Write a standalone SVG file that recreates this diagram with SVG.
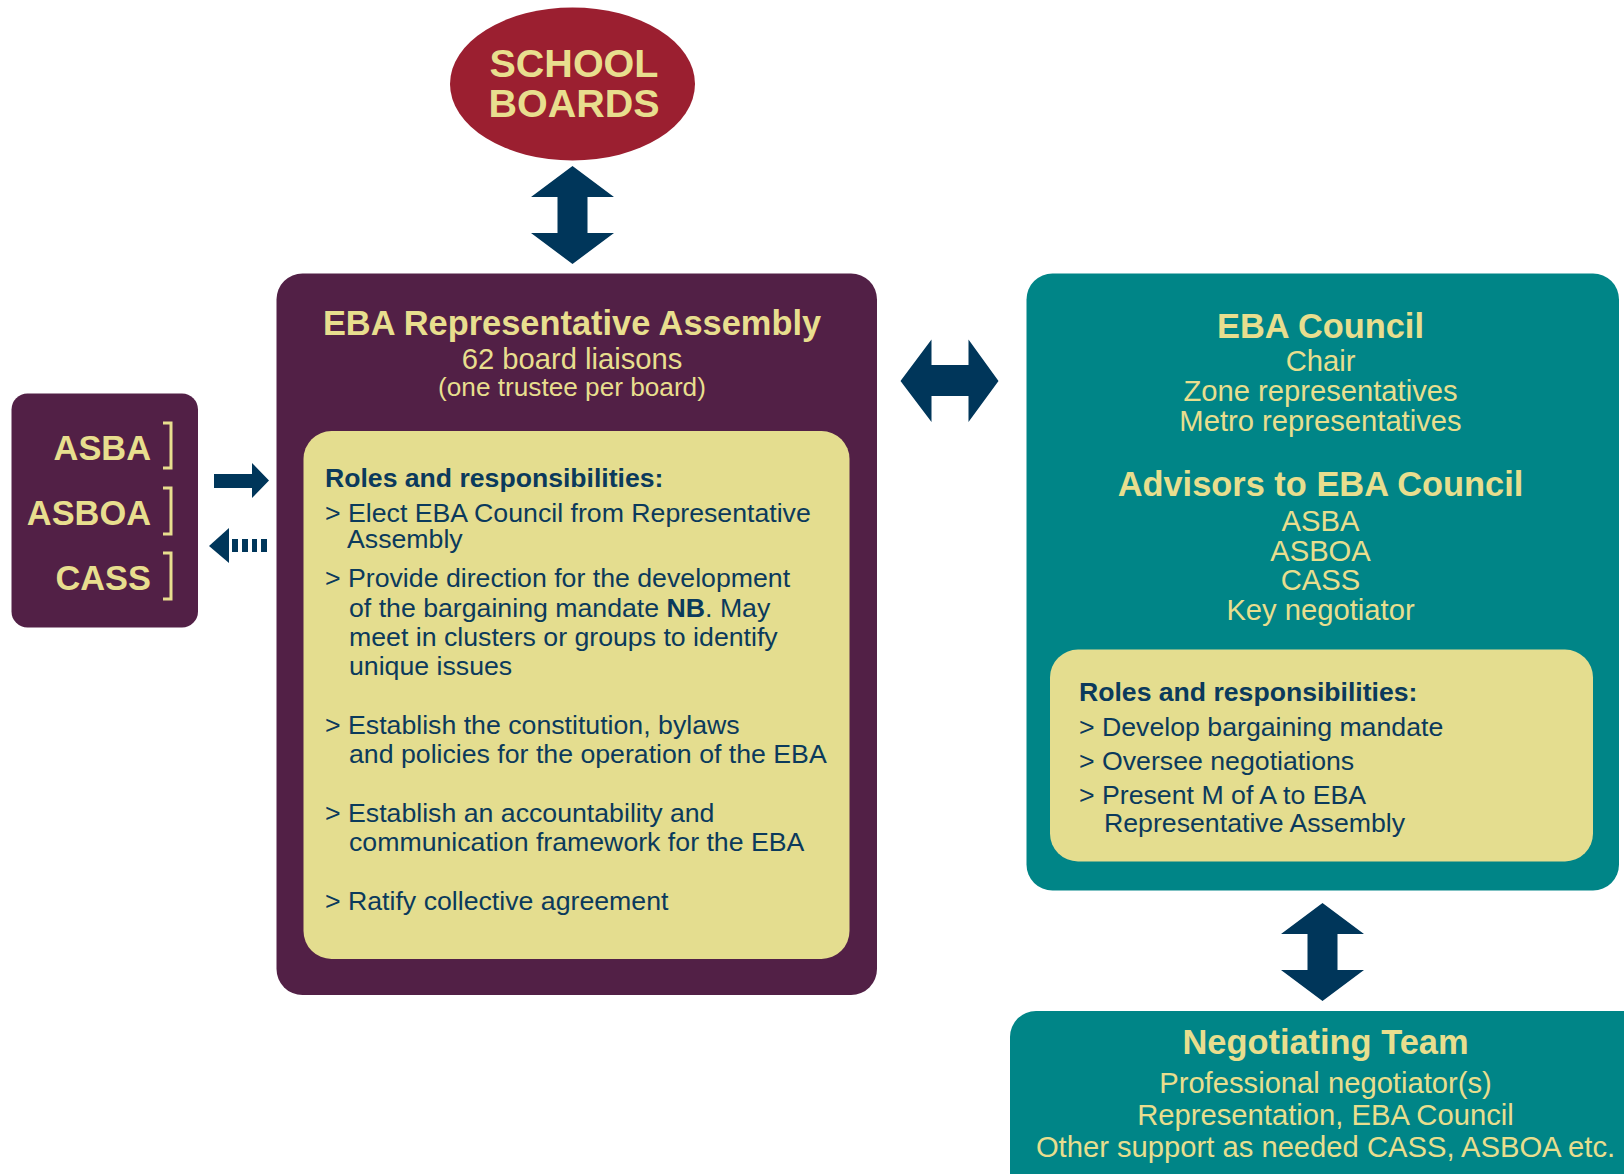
<svg xmlns="http://www.w3.org/2000/svg" width="1624" height="1174" viewBox="0 0 1624 1174">
<style>
text{font-family:"Liberation Sans",Arial,sans-serif}
.hd{font-weight:bold;font-size:34.4px;fill:#E8DE8E;text-anchor:middle}
.sub{font-size:29.2px;fill:#E8DE8E;text-anchor:middle}
.rh{font-weight:bold;font-size:26.6px;fill:#0B3A5C}
.li{font-size:26.7px;fill:#0B3A5C}
.ar{fill:#00365A}
.br{fill:none;stroke:#E8DE8E;stroke-width:3}
</style>
<rect width="1624" height="1174" fill="#ffffff"/>
<g id="connectors">
<path class="ar" d="M572.5,166 L614,197 L587.5,197 L587.5,233 L614,233 L572.5,264 L531,233 L557.5,233 L557.5,197 L531,197 Z"/>
<path class="ar" d="M1322.5,903 L1364,934 L1337.5,934 L1337.5,970 L1364,970 L1322.5,1001 L1281,970 L1307.5,970 L1307.5,934 L1281,934 Z"/>
<path class="ar" d="M900.5,381 L931.5,339.5 L931.5,365 L968.5,365 L968.5,339.5 L998.5,381 L968.5,422 L968.5,396 L931.5,396 L931.5,422 Z"/>
<path class="ar" d="M214,474 L252,474 L252,463 L269,480.5 L252,498 L252,488 L214,488 Z"/>
<path class="ar" d="M209,546 L229,528 L229,563 Z"/>
<rect class="ar" x="232" y="539" width="6" height="13"/>
<rect class="ar" x="242" y="539" width="6" height="13"/>
<rect class="ar" x="252" y="539" width="5" height="13"/>
<rect class="ar" x="261" y="539" width="6" height="13"/>
</g>
<g id="school-boards">
<ellipse cx="572.5" cy="84" rx="122.5" ry="76.5" fill="#9B1F30"/>
<text x="574" y="77" style="font-weight:bold;font-size:39.5px;fill:#E8DE8E;text-anchor:middle">SCHOOL</text>
<text x="574" y="117" style="font-weight:bold;font-size:39.5px;fill:#E8DE8E;text-anchor:middle">BOARDS</text>
</g>
<g id="associations">
<rect x="11.5" y="393.5" width="186.5" height="234" rx="16" fill="#522046"/>
<text x="151" y="459.5" style="font-weight:bold;font-size:34.4px;fill:#E8DE8E;text-anchor:end">ASBA</text>
<text x="151" y="525" style="font-weight:bold;font-size:34.4px;fill:#E8DE8E;text-anchor:end">ASBOA</text>
<text x="151" y="590" style="font-weight:bold;font-size:34.4px;fill:#E8DE8E;text-anchor:end">CASS</text>
<path class="br" d="M163,423 H171 V468 H163"/>
<path class="br" d="M163,488 H171 V534 H163"/>
<path class="br" d="M163,553 H171 V599 H163"/>
</g>
<g id="representative-assembly">
<rect x="276.5" y="273.5" width="600.5" height="721.5" rx="26" fill="#522046"/>
<text class="hd" x="572" y="334.5">EBA Representative Assembly</text>
<text class="sub" x="572" y="369">62 board liaisons</text>
<text x="572" y="396" style="font-size:26.2px;fill:#E8DE8E;text-anchor:middle">(one trustee per board)</text>
<rect x="303.5" y="431" width="546" height="528" rx="28" fill="#E4DD8F"/>
<text class="rh" x="325" y="487">Roles and responsibilities:</text>
<text class="li" x="325" y="522">&gt; Elect EBA Council from Representative</text>
<text class="li" x="347" y="548">Assembly</text>
<text class="li" x="325" y="587">&gt; Provide direction for the development</text>
<text class="li" x="349" y="617">of the bargaining mandate <tspan font-weight="bold">NB</tspan>. May</text>
<text class="li" x="349" y="646">meet in clusters or groups to identify</text>
<text class="li" x="349" y="675">unique issues</text>
<text class="li" x="325" y="734">&gt; Establish the constitution, bylaws</text>
<text class="li" x="349" y="763">and policies for the operation of the EBA</text>
<text class="li" x="325" y="822">&gt; Establish an accountability and</text>
<text class="li" x="349" y="851">communication framework for the EBA</text>
<text class="li" x="325" y="910">&gt; Ratify collective agreement</text>
</g>
<g id="eba-council">
<rect x="1026.5" y="273.5" width="592.5" height="617" rx="26" fill="#008587"/>
<text class="hd" x="1320.5" y="337.5">EBA Council</text>
<text class="sub" x="1320.5" y="371">Chair</text>
<text class="sub" x="1320.5" y="401">Zone representatives</text>
<text class="sub" x="1320.5" y="431">Metro representatives</text>
<text class="hd" x="1320.5" y="496">Advisors to EBA Council</text>
<text class="sub" x="1320.5" y="531">ASBA</text>
<text class="sub" x="1320.5" y="560.5">ASBOA</text>
<text class="sub" x="1320.5" y="590">CASS</text>
<text class="sub" x="1320.5" y="619.5">Key negotiator</text>
<rect x="1050" y="649.5" width="543" height="212" rx="28" fill="#E4DD8F"/>
<text class="rh" x="1079" y="701">Roles and responsibilities:</text>
<text class="li" x="1079" y="736">&gt; Develop bargaining mandate</text>
<text class="li" x="1079" y="769.5">&gt; Oversee negotiations</text>
<text class="li" x="1079" y="803.5">&gt; Present M of A to EBA</text>
<text class="li" x="1104" y="832">Representative Assembly</text>
</g>
<g id="negotiating-team">
<rect x="1010" y="1011" width="640" height="200" rx="26" fill="#008587"/>
<text class="hd" x="1325.5" y="1054">Negotiating Team</text>
<text class="sub" x="1325.5" y="1092.5">Professional negotiator(s)</text>
<text class="sub" x="1325.5" y="1124.5">Representation, EBA Council</text>
<text class="sub" x="1325.5" y="1156.5">Other support as needed CASS, ASBOA etc.</text>
</g>
</svg>
